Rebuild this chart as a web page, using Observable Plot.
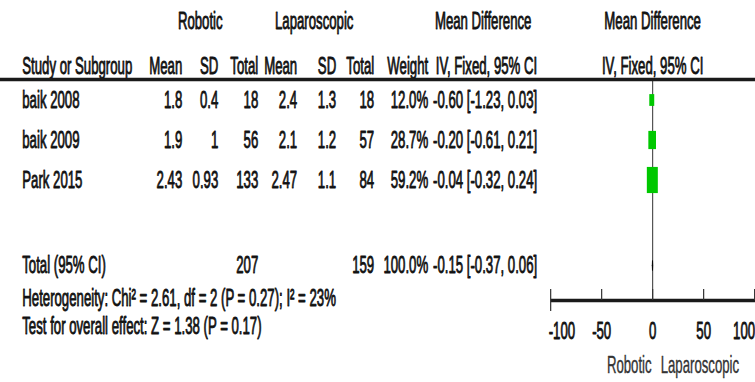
<!DOCTYPE html>
<html>
<head>
<meta charset="utf-8">
<script src="https://cdn.jsdelivr.net/npm/d3@7"></script>
<script src="https://cdn.jsdelivr.net/npm/@observablehq/plot@0.6"></script>
<style>
  body { margin: 0; background: #fff; }
  #chart svg { display: block; }
</style>
</head>
<body>
<div id="chart"></div>
<script>
// ---- Study data ----
const studies = ["baik 2008", "baik 2009", "Park 2015"];
const roboticMean = [1.8, 1.9, 2.43];
const roboticSD = [0.4, 1, 0.93];
const roboticN = [18, 56, 133];
const laparoMean = [2.4, 2.1, 2.47];
const laparoSD = [1.3, 1.2, 1.1];
const laparoN = [18, 57, 84];
const weights = [12.0, 28.7, 59.2];
const meanDiff = [-0.60, -0.20, -0.04];
const ciLow = [-1.23, -0.61, -0.32];
const ciHigh = [0.03, 0.21, 0.24];

// ---- Pooled result ----
const totalRobotic = 207;
const totalLaparo = 159;
const totalWeight = 100.0;
const pooledMD = -0.15;
const pooledLow = -0.37;
const pooledHigh = 0.06;
const heterogeneityText = "Heterogeneity: Chi² = 2.61, df = 2 (P = 0.27); I² = 23%";
const overallText = "Test for overall effect: Z = 1.38 (P = 0.17)";

// ---- Axis ----
const axisTicks = [-100, -50, 0, 50, 100];
const favourLeft = "Robotic";
const favourRight = "Laparoscopic";

// ---- Layout: drawn wide, then narrowed horizontally for a condensed look ----
const OUT_W = 755, H = 382;
const squeeze = 0.55;
const W = Math.round(OUT_W / squeeze);
const FONT = "24px";
const ink = "#111";
const v = px => px / squeeze; // output pixels -> drawing units

const rowY = {
  group: 21, head: 66, rule: 79,
  studies: [100, 140, 180],
  total: 265, het: 298, test: 326,
  lineTop: 80, axis: 300, tickTop: 289, tickBottom: 311,
  tickLabel: 331, favour: 365
};
const col = {
  study: v(22), rMean: v(182), rSD: v(218), rN: v(258), lMean: v(297), lSD: v(336), lN: v(374),
  weight: v(428), ci: v(537), rGroup: v(200), lGroup: v(314), mdLeft: v(483)
};
const forestRange = [v(550.5), v(754.5)];
const xs = d3.scaleLinear().domain([-100, 100]).range(forestRange);
const edgeLeft = xs.invert(0), edgeRight = xs.invert(W);

const hy = s => s.replace(/\u2212/g, "-");
const fmt2 = d => hy(d.toFixed(2));
const ciText = (m, lo, hi) => `${fmt2(m)} [${fmt2(lo)}, ${fmt2(hi)}]`;

const rows = studies.map((s, i) => ({
  study: s, y: rowY.studies[i],
  rMean: String(roboticMean[i]), rSD: String(roboticSD[i]), rN: String(roboticN[i]),
  lMean: String(laparoMean[i]), lSD: String(laparoSD[i]), lN: String(laparoN[i]),
  weight: weights[i].toFixed(1) + "%",
  ci: ciText(meanDiff[i], ciLow[i], ciHigh[i]),
  md: meanDiff[i], lo: ciLow[i], hi: ciHigh[i], w: weights[i]
}));
const totalRow = [{
  study: "Total (95% CI)", y: rowY.total,
  rN: String(totalRobotic), lN: String(totalLaparo),
  weight: totalWeight.toFixed(1) + "%",
  ci: ciText(pooledMD, pooledLow, pooledHigh)
}];

const textStyle = {fill: ink, stroke: ink, strokeWidth: 0.9, fontSize: FONT};

// one text mark per table column, aligned at its column edge
function column(data, key, x, anchor) {
  return Plot.text(data, {text: key, y: "y", frameAnchor: "left", dx: x, textAnchor: anchor, ...textStyle});
}
function label(text, y, x, anchor) {
  return Plot.text([text], {text: d => d, y: () => y, frameAnchor: "left", dx: x, textAnchor: anchor, ...textStyle});
}

// box size grows with the study weight
const unitsPerPx = 200 / (forestRange[1] - forestRange[0]);
const boxH = w => 3.4 * Math.sqrt(w);
const boxHalfW = w => 0.42 * boxH(w) / squeeze / 2 * unitsPerPx;

const diamond = [
  {x: pooledLow, y: rowY.total},
  {x: pooledMD, y: rowY.total - 5},
  {x: pooledHigh, y: rowY.total},
  {x: pooledMD, y: rowY.total + 5},
  {x: pooledLow, y: rowY.total}
];

const tableCols = [
  ["rMean", col.rMean], ["rSD", col.rSD], ["rN", col.rN],
  ["lMean", col.lMean], ["lSD", col.lSD], ["lN", col.lN],
  ["weight", col.weight], ["ci", col.ci]
];

// horizontal rules: the header underline and the forest axis
const hRules = [
  {y: rowY.rule, x1: edgeLeft, x2: edgeRight},
  {y: rowY.axis, x1: -100, x2: edgeRight}
];

const lastTick = axisTicks.length - 1;

const chart = Plot.plot({
  width: W, height: H,
  margin: 0,
  x: {domain: [-100, 100], range: forestRange, axis: null},
  y: {domain: [0, H], range: [0, H], axis: null},
  style: {fontFamily: "'Liberation Sans', Arial, sans-serif", fontSize: FONT, background: "#fff"},
  marks: [
    // forest plot reference line
    Plot.ruleX([0], {y1: rowY.lineTop, y2: rowY.axis, stroke: "#444", strokeWidth: 2}),

    // headers
    label("Robotic", rowY.group, col.rGroup, "middle"),
    label("Laparoscopic", rowY.group, col.lGroup, "middle"),
    label("Mean Difference", rowY.group, col.mdLeft, "middle"),
    Plot.text(["Mean Difference", "IV, Fixed, 95% CI"], {
      x: () => 0, y: (d, i) => i ? rowY.head : rowY.group, text: d => d, ...textStyle
    }),
    label("Study or Subgroup", rowY.head, col.study, "start"),
    label("Mean", rowY.head, col.rMean, "end"),
    label("SD", rowY.head, col.rSD, "end"),
    label("Total", rowY.head, col.rN, "end"),
    label("Mean", rowY.head, col.lMean, "end"),
    label("SD", rowY.head, col.lSD, "end"),
    label("Total", rowY.head, col.lN, "end"),
    label("Weight", rowY.head, col.weight, "end"),
    label("IV, Fixed, 95% CI", rowY.head, col.ci, "end"),

    // study rows
    column(rows, "study", col.study, "start"),
    ...tableCols.map(([k, x]) => column(rows, k, x, "end")),

    // total row and summary lines
    column(totalRow, "study", col.study, "start"),
    ...tableCols.filter(([k]) => k in totalRow[0]).map(([k, x]) => column(totalRow, k, x, "end")),
    label(heterogeneityText, rowY.het, col.study, "start"),
    label(overallText, rowY.test, col.study, "start"),

    // header underline and axis line, on top of the text
    Plot.ruleY(hRules, {y: "y", x1: "x1", x2: "x2", stroke: "#1a1a1a", strokeWidth: 3.5}),

    // confidence intervals, weighted boxes, pooled diamond
    Plot.ruleY(rows, {x1: "lo", x2: "hi", y: "y", stroke: "#000", strokeWidth: 1}),
    Plot.rect(rows, {
      x1: d => d.md - boxHalfW(d.w), x2: d => d.md + boxHalfW(d.w),
      y1: d => d.y - boxH(d.w) / 2, y2: d => d.y + boxH(d.w) / 2,
      fill: "#00c800"
    }),
    Plot.line(diamond, {x: "x", y: "y", stroke: "#000", fill: "#000", strokeWidth: 1}),

    // axis ticks and labels
    Plot.ruleX(axisTicks, {x: d => d, y1: rowY.tickTop, y2: (d, i) => i === 0 ? rowY.tickBottom : rowY.axis, stroke: "#333", strokeWidth: 2.2}),
    Plot.text(axisTicks.slice(1, lastTick), {x: d => d, y: () => rowY.tickLabel, text: d => String(d), ...textStyle}),
    Plot.text([axisTicks[0]], {x: d => d, y: () => rowY.tickLabel, text: d => String(d), textAnchor: "start", dx: v(-2), ...textStyle}),
    Plot.text([axisTicks[lastTick]], {x: d => d, y: () => rowY.tickLabel, text: d => String(d), textAnchor: "end", dx: v(0.5), ...textStyle}),
    Plot.text([favourLeft], {x: () => 0, y: () => rowY.favour, text: d => d, textAnchor: "end", dx: v(-1), ...textStyle, fill: "#333", stroke: "#333", strokeWidth: 0.4}),
    Plot.text([favourRight], {x: () => 0, y: () => rowY.favour, text: d => d, textAnchor: "start", dx: v(8), ...textStyle, fill: "#333", stroke: "#333", strokeWidth: 0.4})
  ]
});

// narrow the drawing horizontally to the output width
chart.setAttribute("viewBox", `0 0 ${W} ${H}`);
chart.setAttribute("preserveAspectRatio", "none");
chart.setAttribute("width", OUT_W);
chart.setAttribute("height", H);
chart.style.width = OUT_W + "px";
chart.style.height = H + "px";
chart.style.maxWidth = "none";
document.getElementById("chart").appendChild(chart);
</script>
</body>
</html>
